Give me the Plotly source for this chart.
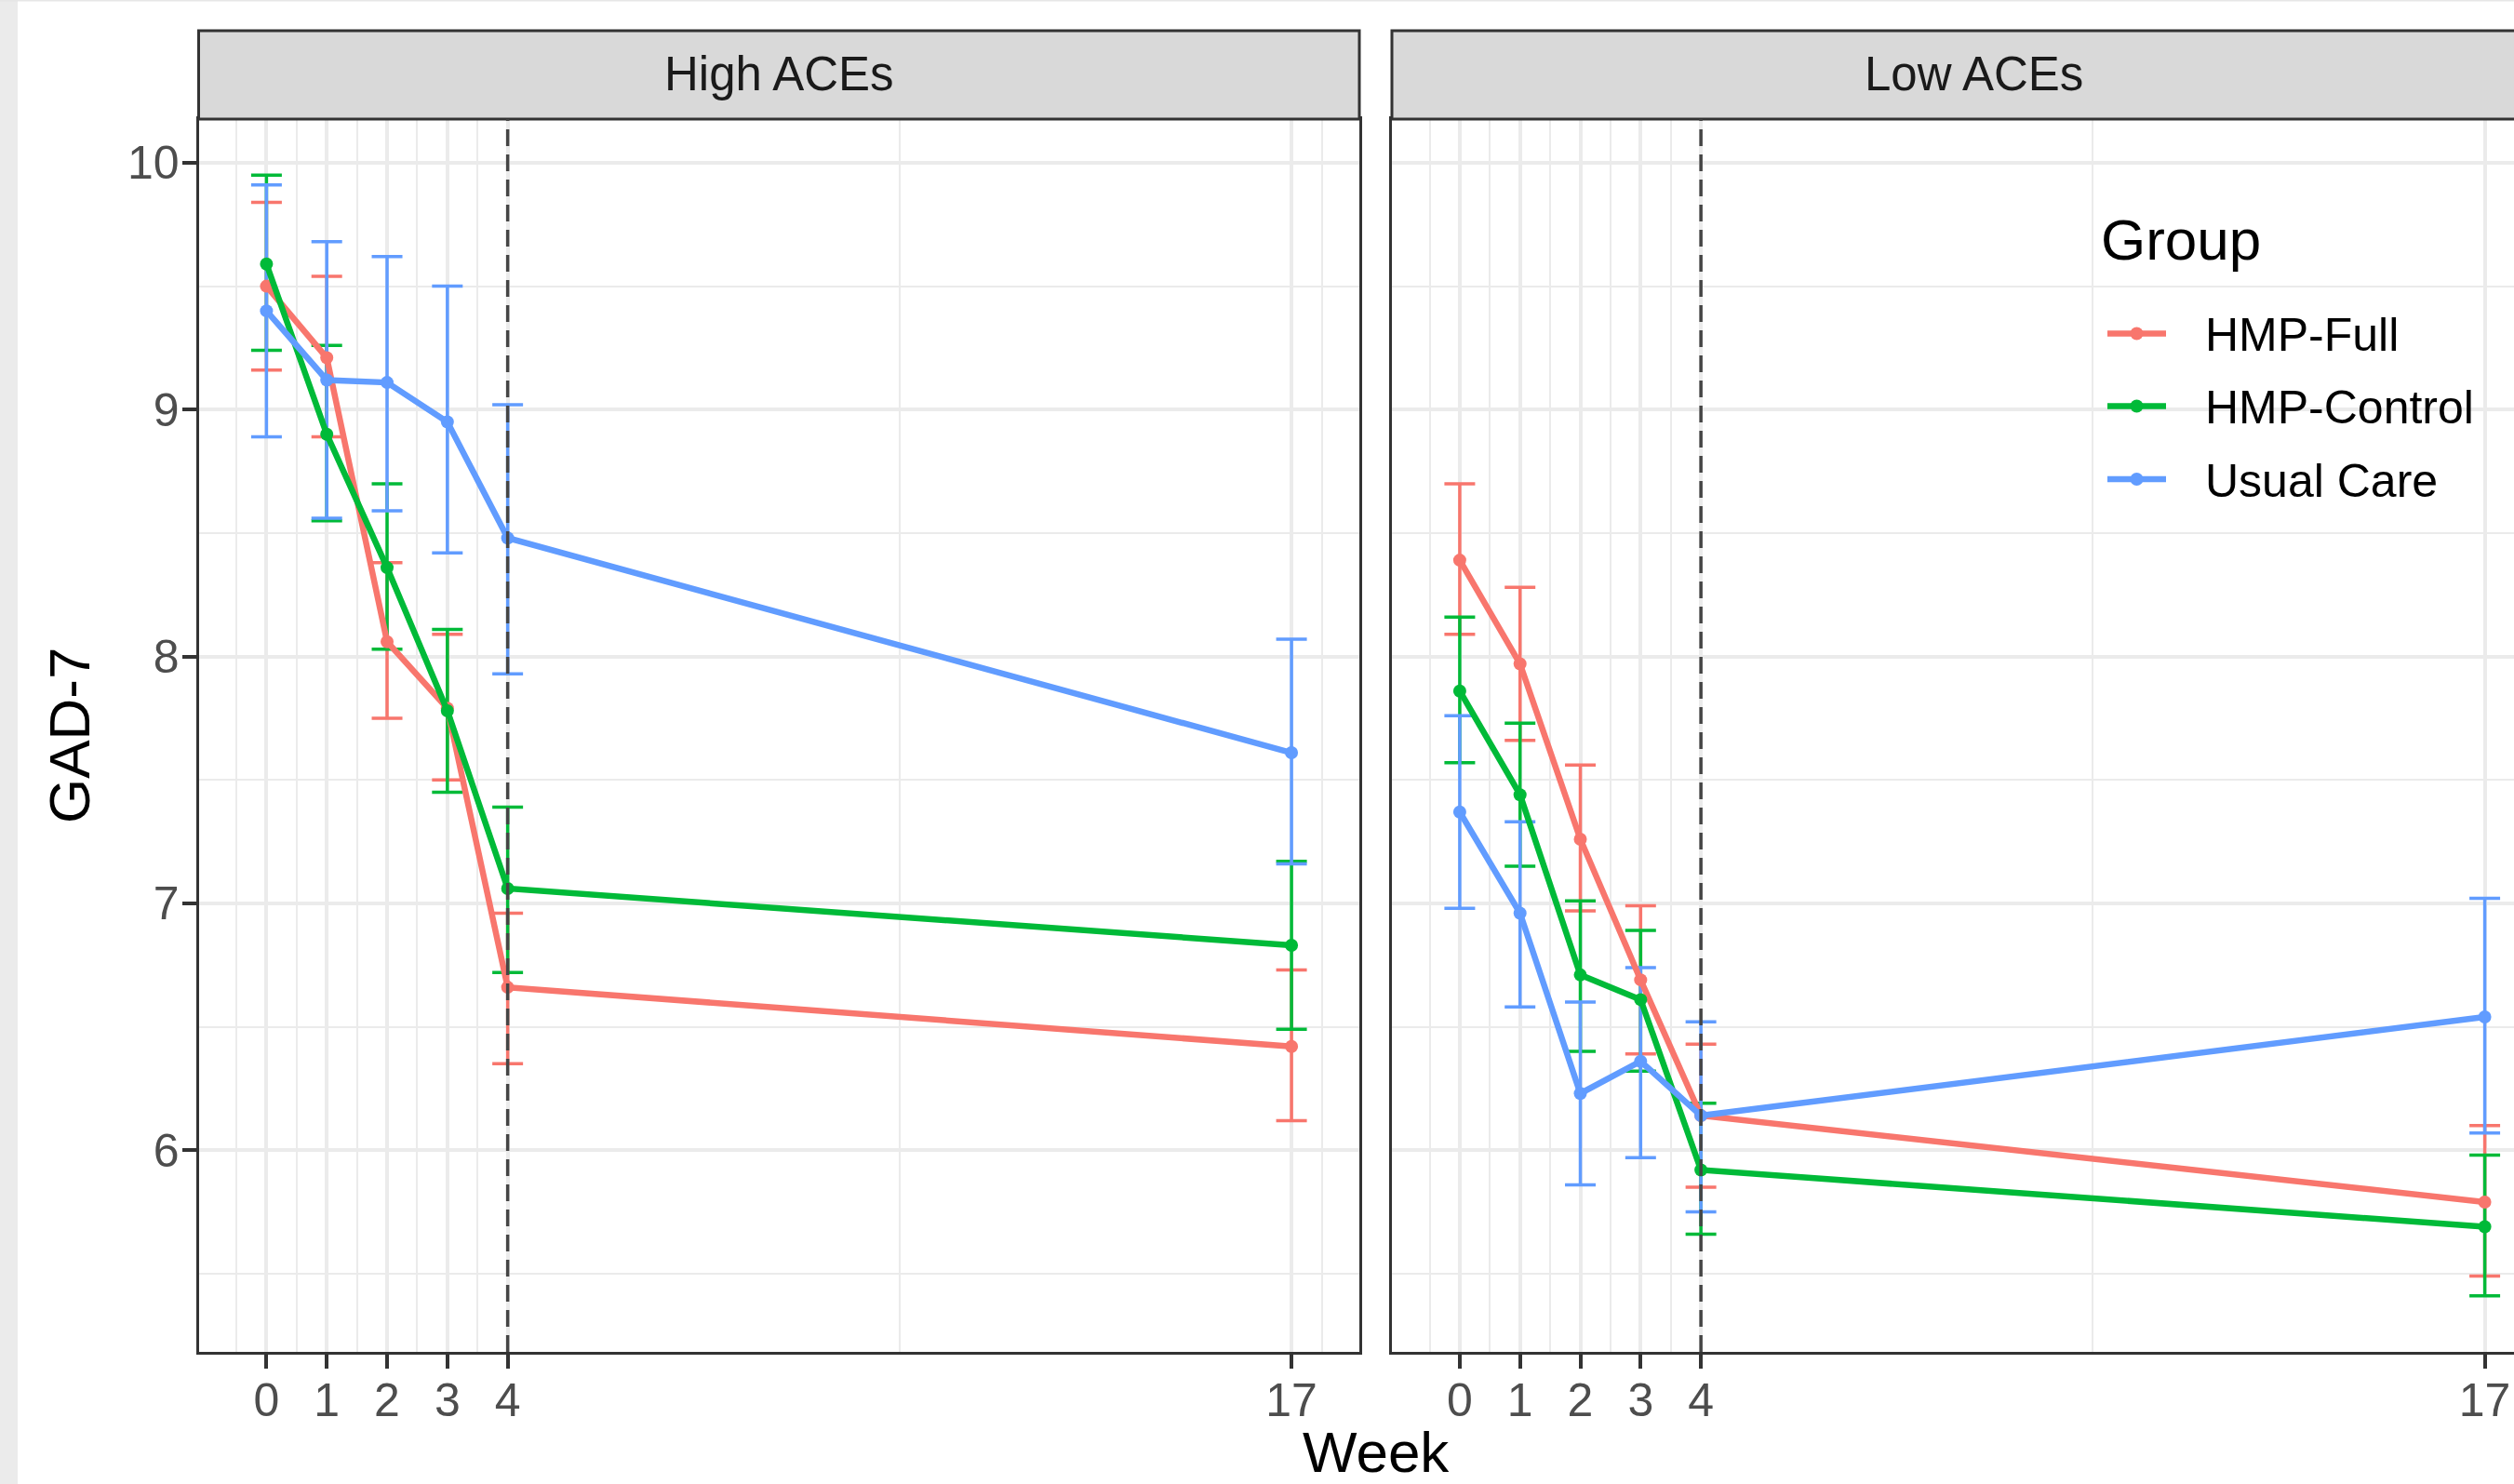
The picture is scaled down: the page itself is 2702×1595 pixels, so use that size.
import plotly.graph_objects as go

# ---------------- data ----------------
weeks = [0, 1, 2, 3, 4, 17]
week_ticks = [0, 1, 2, 3, 4, 17]
gad_ticks = [6, 7, 8, 9, 10]
groups = ["HMP-Full", "HMP-Control", "Usual Care"]
panels = ["High ACEs", "Low ACEs"]
intervention_end_week = 4

high_full_mean = [9.50, 9.21, 8.06, 7.79, 6.66, 6.42]
high_full_low = [9.16, 8.89, 7.75, 7.50, 6.35, 6.12]
high_full_up = [9.84, 9.54, 8.38, 8.09, 6.96, 6.73]

high_ctrl_mean = [9.59, 8.90, 8.36, 7.78, 7.06, 6.83]
high_ctrl_low = [9.24, 8.55, 8.03, 7.45, 6.72, 6.49]
high_ctrl_up = [9.95, 9.26, 8.70, 8.11, 7.39, 7.17]

high_uc_mean = [9.40, 9.12, 9.11, 8.95, 8.48, 7.61]
high_uc_low = [8.89, 8.56, 8.59, 8.42, 7.93, 7.16]
high_uc_up = [9.91, 9.68, 9.62, 9.50, 9.02, 8.07]

low_full_mean = [8.39, 7.97, 7.26, 6.69, 6.14, 5.79]
low_full_low = [8.09, 7.66, 6.97, 6.39, 5.85, 5.49]
low_full_up = [8.70, 8.28, 7.56, 6.99, 6.43, 6.10]

low_ctrl_mean = [7.86, 7.44, 6.71, 6.61, 5.92, 5.69]
low_ctrl_low = [7.57, 7.15, 6.40, 6.32, 5.66, 5.41]
low_ctrl_up = [8.16, 7.73, 7.01, 6.89, 6.19, 5.98]

low_uc_mean = [7.37, 6.96, 6.23, 6.36, 6.14, 6.54]
low_uc_low = [6.98, 6.58, 5.86, 5.97, 5.75, 6.07]
low_uc_up = [7.76, 7.33, 6.60, 6.74, 6.52, 7.02]

series = {
    "High ACEs": {
        "HMP-Full": (high_full_mean, high_full_low, high_full_up),
        "HMP-Control": (high_ctrl_mean, high_ctrl_low, high_ctrl_up),
        "Usual Care": (high_uc_mean, high_uc_low, high_uc_up),
    },
    "Low ACEs": {
        "HMP-Full": (low_full_mean, low_full_low, low_full_up),
        "HMP-Control": (low_ctrl_mean, low_ctrl_low, low_ctrl_up),
        "Usual Care": (low_uc_mean, low_uc_low, low_uc_up),
    },
}

# ---------------- style ----------------
colors = {"HMP-Full": "#F8766D", "HMP-Control": "#00BA38", "Usual Care": "#619CFF"}
W, H = 2702, 1595
FONT = "Liberation Sans, Arial, Helvetica, sans-serif"

def px_x(p):
    return p / W

def px_y(p):
    return 1 - p / H

panel_top, panel_bot = 128, 1453
strip_top = 33
left_x0, left_x1 = 213.5, 1461
right_x0 = 1496
unit = (left_x1 - left_x0) / 19.25
x_range_left = [-1.125, 18.125]
x_range_right = [-1.125, -1.125 + (W - right_x0) / unit]
y_range = [5.183, 10.177]

LINE_W = 6.5
MARKER = 14

fig = go.Figure()

axes = {"High ACEs": ("x", "y"), "Low ACEs": ("x2", "y2")}

for panel in panels:
    xa, ya = axes[panel]
    for g in groups:
        m, lo, up = series[panel][g]
        fig.add_trace(go.Scatter(
            x=weeks, y=m, xaxis=xa, yaxis=ya, mode="markers",
            marker=dict(size=0.1, opacity=0, color=colors[g]),
            error_y=dict(type="data", symmetric=False,
                         array=[u - v for u, v in zip(up, m)],
                         arrayminus=[v - l for v, l in zip(m, lo)],
                         color=colors[g], thickness=3.5, width=16.5),
            showlegend=False, legendgroup=g, hoverinfo="skip"))
for panel in panels:
    xa, ya = axes[panel]
    for g in groups:
        m, lo, up = series[panel][g]
        fig.add_trace(go.Scatter(
            x=weeks, y=m, xaxis=xa, yaxis=ya, mode="lines+markers",
            name=g, legendgroup=g, showlegend=False,
            line=dict(color=colors[g], width=LINE_W),
            marker=dict(color=colors[g], size=MARKER)))

common_x = dict(
    tickvals=week_ticks, ticktext=[str(t) for t in week_ticks],
    ticks="outside", ticklen=15, tickwidth=3.5, tickcolor="#333333",
    tickfont=dict(family=FONT, size=50, color="#4D4D4D"),
    ticklabelstandoff=-9,
    showgrid=True, gridcolor="#EBEBEB", gridwidth=4,
    minor=dict(tickvals=[-0.5, 0.5, 1.5, 2.5, 3.5, 10.5, 17.5], showgrid=True,
               gridcolor="#EBEBEB", gridwidth=2, ticklen=0),
    showline=True, linecolor="#333333", linewidth=3, mirror=True,
    zeroline=False, automargin=False,
)
common_y = dict(
    range=y_range, tickvals=gad_ticks, ticktext=[str(t) for t in gad_ticks],
    showgrid=True, gridcolor="#EBEBEB", gridwidth=4,
    minor=dict(tickvals=[5.5, 6.5, 7.5, 8.5, 9.5], showgrid=True,
               gridcolor="#EBEBEB", gridwidth=2, ticklen=0),
    showline=True, linecolor="#333333", linewidth=3,
    zeroline=False, automargin=False,
    domain=[px_y(panel_bot), px_y(panel_top)],
)

fig.update_layout(
    xaxis=dict(domain=[px_x(left_x0), px_x(left_x1)], range=x_range_left, **common_x),
    xaxis2=dict(domain=[px_x(right_x0), 1.0], range=x_range_right, anchor="y2", **common_x),
    yaxis=dict(ticks="outside", ticklen=15, tickwidth=3.5, tickcolor="#333333",
               tickfont=dict(family=FONT, size=50, color="#4D4D4D"),
               ticklabelstandoff=-7,
               mirror=True, anchor="x", **common_y),
    yaxis2=dict(ticks="", showticklabels=False, mirror=False, anchor="x2",
                matches="y", **common_y),
)

shapes = [
    # screenshot frame
    dict(type="rect", xref="paper", yref="paper", x0=0, x1=px_x(19), y0=0, y1=1,
         fillcolor="#EBEBEB", line=dict(width=0), layer="below"),
    dict(type="rect", xref="paper", yref="paper", x0=0, x1=1, y0=px_y(1.5), y1=1,
         fillcolor="#E6E6E6", line=dict(width=0), layer="below"),
    # strips
    dict(type="rect", xref="paper", yref="paper", x0=px_x(left_x0), x1=px_x(left_x1),
         y0=px_y(panel_top), y1=px_y(strip_top), fillcolor="#D9D9D9",
         line=dict(color="#333333", width=3), layer="above"),
    dict(type="rect", xref="paper", yref="paper", x0=px_x(right_x0), x1=1.02,
         y0=px_y(panel_top), y1=px_y(strip_top), fillcolor="#D9D9D9",
         line=dict(color="#333333", width=3), layer="above"),
    # legend background
    dict(type="rect", xref="paper", yref="paper", x0=px_x(2197), x1=1.0,
         y0=px_y(645), y1=px_y(151), fillcolor="white", line=dict(width=0),
         layer="between"),
]
for xa in ["x", "x2"]:
    shapes.append(dict(type="line", xref=xa, yref=("y domain" if xa == "x" else "y2 domain"),
                       x0=intervention_end_week, x1=intervention_end_week, y0=0, y1=1,
                       line=dict(color="#454545", width=3.5, dash="18px,9px"), layer="above"))

annotations = [
    dict(text="High ACEs", x=px_x((left_x0 + left_x1) / 2), y=px_y(79.5),
         xref="paper", yref="paper", showarrow=False, xanchor="center", yanchor="middle",
         font=dict(family=FONT, size=51, color="#1A1A1A")),
    dict(text="Low ACEs", x=px_x(2121), y=px_y(79.5),
         xref="paper", yref="paper", showarrow=False, xanchor="center", yanchor="middle",
         font=dict(family=FONT, size=51, color="#1A1A1A")),
    dict(text="Week", x=px_x(1479), y=px_y(1560), xref="paper", yref="paper",
         showarrow=False, xanchor="center", yanchor="middle",
         font=dict(family=FONT, size=62, color="black")),
    dict(text="GAD-7", x=px_x(74), y=px_y(791), xref="paper", yref="paper",
         showarrow=False, xanchor="center", yanchor="middle", textangle=-90,
         font=dict(family=FONT, size=62, color="black")),
    # legend title
    dict(text="Group", x=px_x(2256), y=px_y(257.5), xref="paper", yref="paper",
         showarrow=False, xanchor="left", yanchor="middle",
         font=dict(family=FONT, size=62, color="black")),
]

# legend keys (line + point) and labels
legend_rows = {"HMP-Full": 358.5, "HMP-Control": 436.5, "Usual Care": 515}
key_x0, key_x1 = 2265, 2328
for g in groups:
    yy = legend_rows[g]
    shapes.append(dict(type="line", xref="paper", yref="paper",
                       x0=px_x(key_x0), x1=px_x(key_x1), y0=px_y(yy), y1=px_y(yy),
                       line=dict(color=colors[g], width=LINE_W), layer="above"))
    cx = (key_x0 + key_x1) / 2
    r = MARKER / 2
    shapes.append(dict(type="circle", xref="paper", yref="paper",
                       x0=px_x(cx - r), x1=px_x(cx + r), y0=px_y(yy + r), y1=px_y(yy - r),
                       fillcolor=colors[g], line=dict(width=0), layer="above"))
    annotations.append(dict(text=g, x=px_x(2368), y=px_y(yy + 1.5), xref="paper", yref="paper",
                            showarrow=False, xanchor="left", yanchor="middle",
                            font=dict(family=FONT, size=50, color="black")))

fig.update_layout(
    width=W, height=H,
    margin=dict(l=0, r=0, t=0, b=0),
    paper_bgcolor="white", plot_bgcolor="white",
    font=dict(family=FONT),
    shapes=shapes, annotations=annotations,
    showlegend=False,
)

fig.write_html("out.html",
               config={"displayModeBar": False},
               post_script="document.body.style.margin='0px';document.body.style.padding='0px';document.body.style.overflow='hidden';")
